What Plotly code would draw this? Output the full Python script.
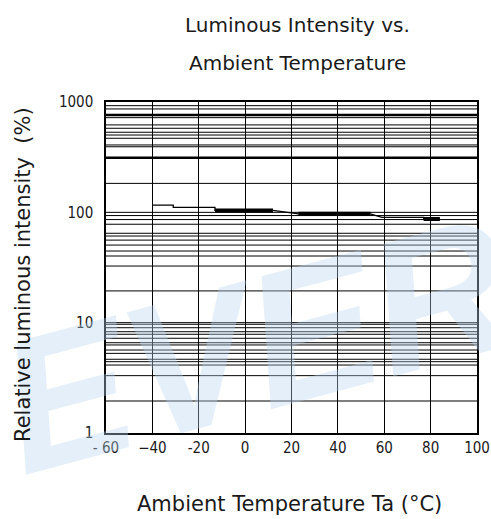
import plotly.graph_objects as go

# ---- data ----
temp_start = [-40, -31, -13, 23, 59, 77]
temp_end = [-31, -13, 12, 54, 77, 84]
rel_intensity = [116, 111, 104, 97, 90, 87]
heavy_segment = [False, False, True, True, False, True]

x_ticks = [-60, -40, -20, 0, 20, 40, 60, 80, 100]
x_tick_text = ["- 60", "−40", "-20", "0", "20", "40", "60", "80", "100"]
y_ticks = [1, 10, 100, 1000]
y_tick_text = ["1", "10", "100", "1000"]

# horizontal chart-paper grid values (as printed on the reference)
grid_thin = [926, 865, 721, 620, 578, 532, 502, 469, 408, 393, 183,
             100, 93.5, 86, 78, 64.6, 61, 56, 50.5, 44.6, 40.2, 32.6, 19.4,
             10, 9.67, 9.0, 8.28, 7.85, 7.22, 6.58, 6.28, 5.65, 5.27, 4.66,
             4.43, 4.13, 3.31, 1.95]
grid_thick = [762, 313]

FONT = "DejaVu Sans Condensed, DejaVu Sans, Liberation Sans Narrow, sans-serif"
FONT_W = "DejaVu Sans, Liberation Sans, sans-serif"

W, H = 491, 519
PL, PR, PT, PB = 106, 477, 102, 433   # plot box in window pixels
PW, PH = PR - PL, PB - PT


def px(xw):
    return (xw - PL) / PW


def py(yw):
    return (PB - yw) / PH


fig = go.Figure()

xs, ys = [], []
for xs0, xe0, yv in zip(temp_start, temp_end, rel_intensity):
    xs += [xs0, xe0]
    ys += [yv, yv]
fig.add_trace(go.Scatter(x=xs, y=ys, mode="lines",
                         line=dict(color="black", width=1.3),
                         showlegend=False, hoverinfo="skip"))
for xs0, xe0, yv, hv in zip(temp_start, temp_end, rel_intensity, heavy_segment):
    if hv:
        fig.add_trace(go.Scatter(x=[xs0, xe0], y=[yv, yv], mode="lines",
                                 line=dict(color="black", width=4),
                                 showlegend=False, hoverinfo="skip"))

shapes = []
for v in grid_thin:
    shapes.append(dict(type="line", xref="paper", yref="y", x0=0, x1=1, y0=v, y1=v,
                       line=dict(color="black", width=1), layer="below"))
for v in grid_thick:
    shapes.append(dict(type="line", xref="paper", yref="y", x0=0, x1=1, y0=v, y1=v,
                       line=dict(color="black", width=2.5), layer="below"))

TXT = "#1a1a1a"
annotations = [
    dict(text="<b><i>EVER</i></b>", xref="paper", yref="paper",
         x=px(255), y=py(345), showarrow=False,
         font=dict(family="Liberation Sans, Arial, sans-serif", size=190,
                   color="rgba(185,212,238,0.38)"),
         textangle=-15, xanchor="center", yanchor="middle"),
    dict(text="Luminous Intensity vs.", xref="paper", yref="paper",
         x=px(297), y=py(25), showarrow=False,
         font=dict(family=FONT_W, size=20, color=TXT),
         xanchor="center", yanchor="middle"),
    dict(text="Ambient Temperature", xref="paper", yref="paper",
         x=px(297), y=py(63), showarrow=False,
         font=dict(family=FONT_W, size=20, color=TXT),
         xanchor="center", yanchor="middle"),
    dict(text="Ambient Temperature Ta (°C)", xref="paper", yref="paper",
         x=px(289), y=py(504), showarrow=False,
         font=dict(family=FONT_W, size=21, color=TXT),
         xanchor="center", yanchor="middle"),
    dict(text="Relative luminous intensity  (%)", xref="paper", yref="paper",
         x=px(23), y=py(275), showarrow=False,
         font=dict(family=FONT_W, size=21, color=TXT),
         textangle=-90, xanchor="center", yanchor="middle"),
]

fig.update_layout(
    width=W, height=H,
    margin=dict(l=PL, r=W - PR, t=PT, b=H - PB, autoexpand=False),
    paper_bgcolor="white", plot_bgcolor="rgba(0,0,0,0)",
    shapes=shapes, annotations=annotations, showlegend=False,
    xaxis=dict(range=[-60, 100], tickvals=x_ticks, ticktext=x_tick_text,
               showgrid=True, gridcolor="black", gridwidth=1, zeroline=False,
               showline=True, linecolor="black", linewidth=1.5, mirror=True,
               automargin=False,
               ticks="", tickfont=dict(family=FONT, size=15, color=TXT)),
    yaxis=dict(type="log", range=[0, 3], tickvals=y_ticks, ticktext=y_tick_text,
               showgrid=False, zeroline=False, ticklabelstandoff=8,
               automargin=False,
               showline=True, linecolor="black", linewidth=1.5, mirror=True,
               ticks="", tickfont=dict(family=FONT, size=15, color=TXT)),
)

fig.write_html(
    "out.html",
    config={"displayModeBar": False},
    post_script="document.body.style.margin='0';document.body.style.padding='0';",
)
